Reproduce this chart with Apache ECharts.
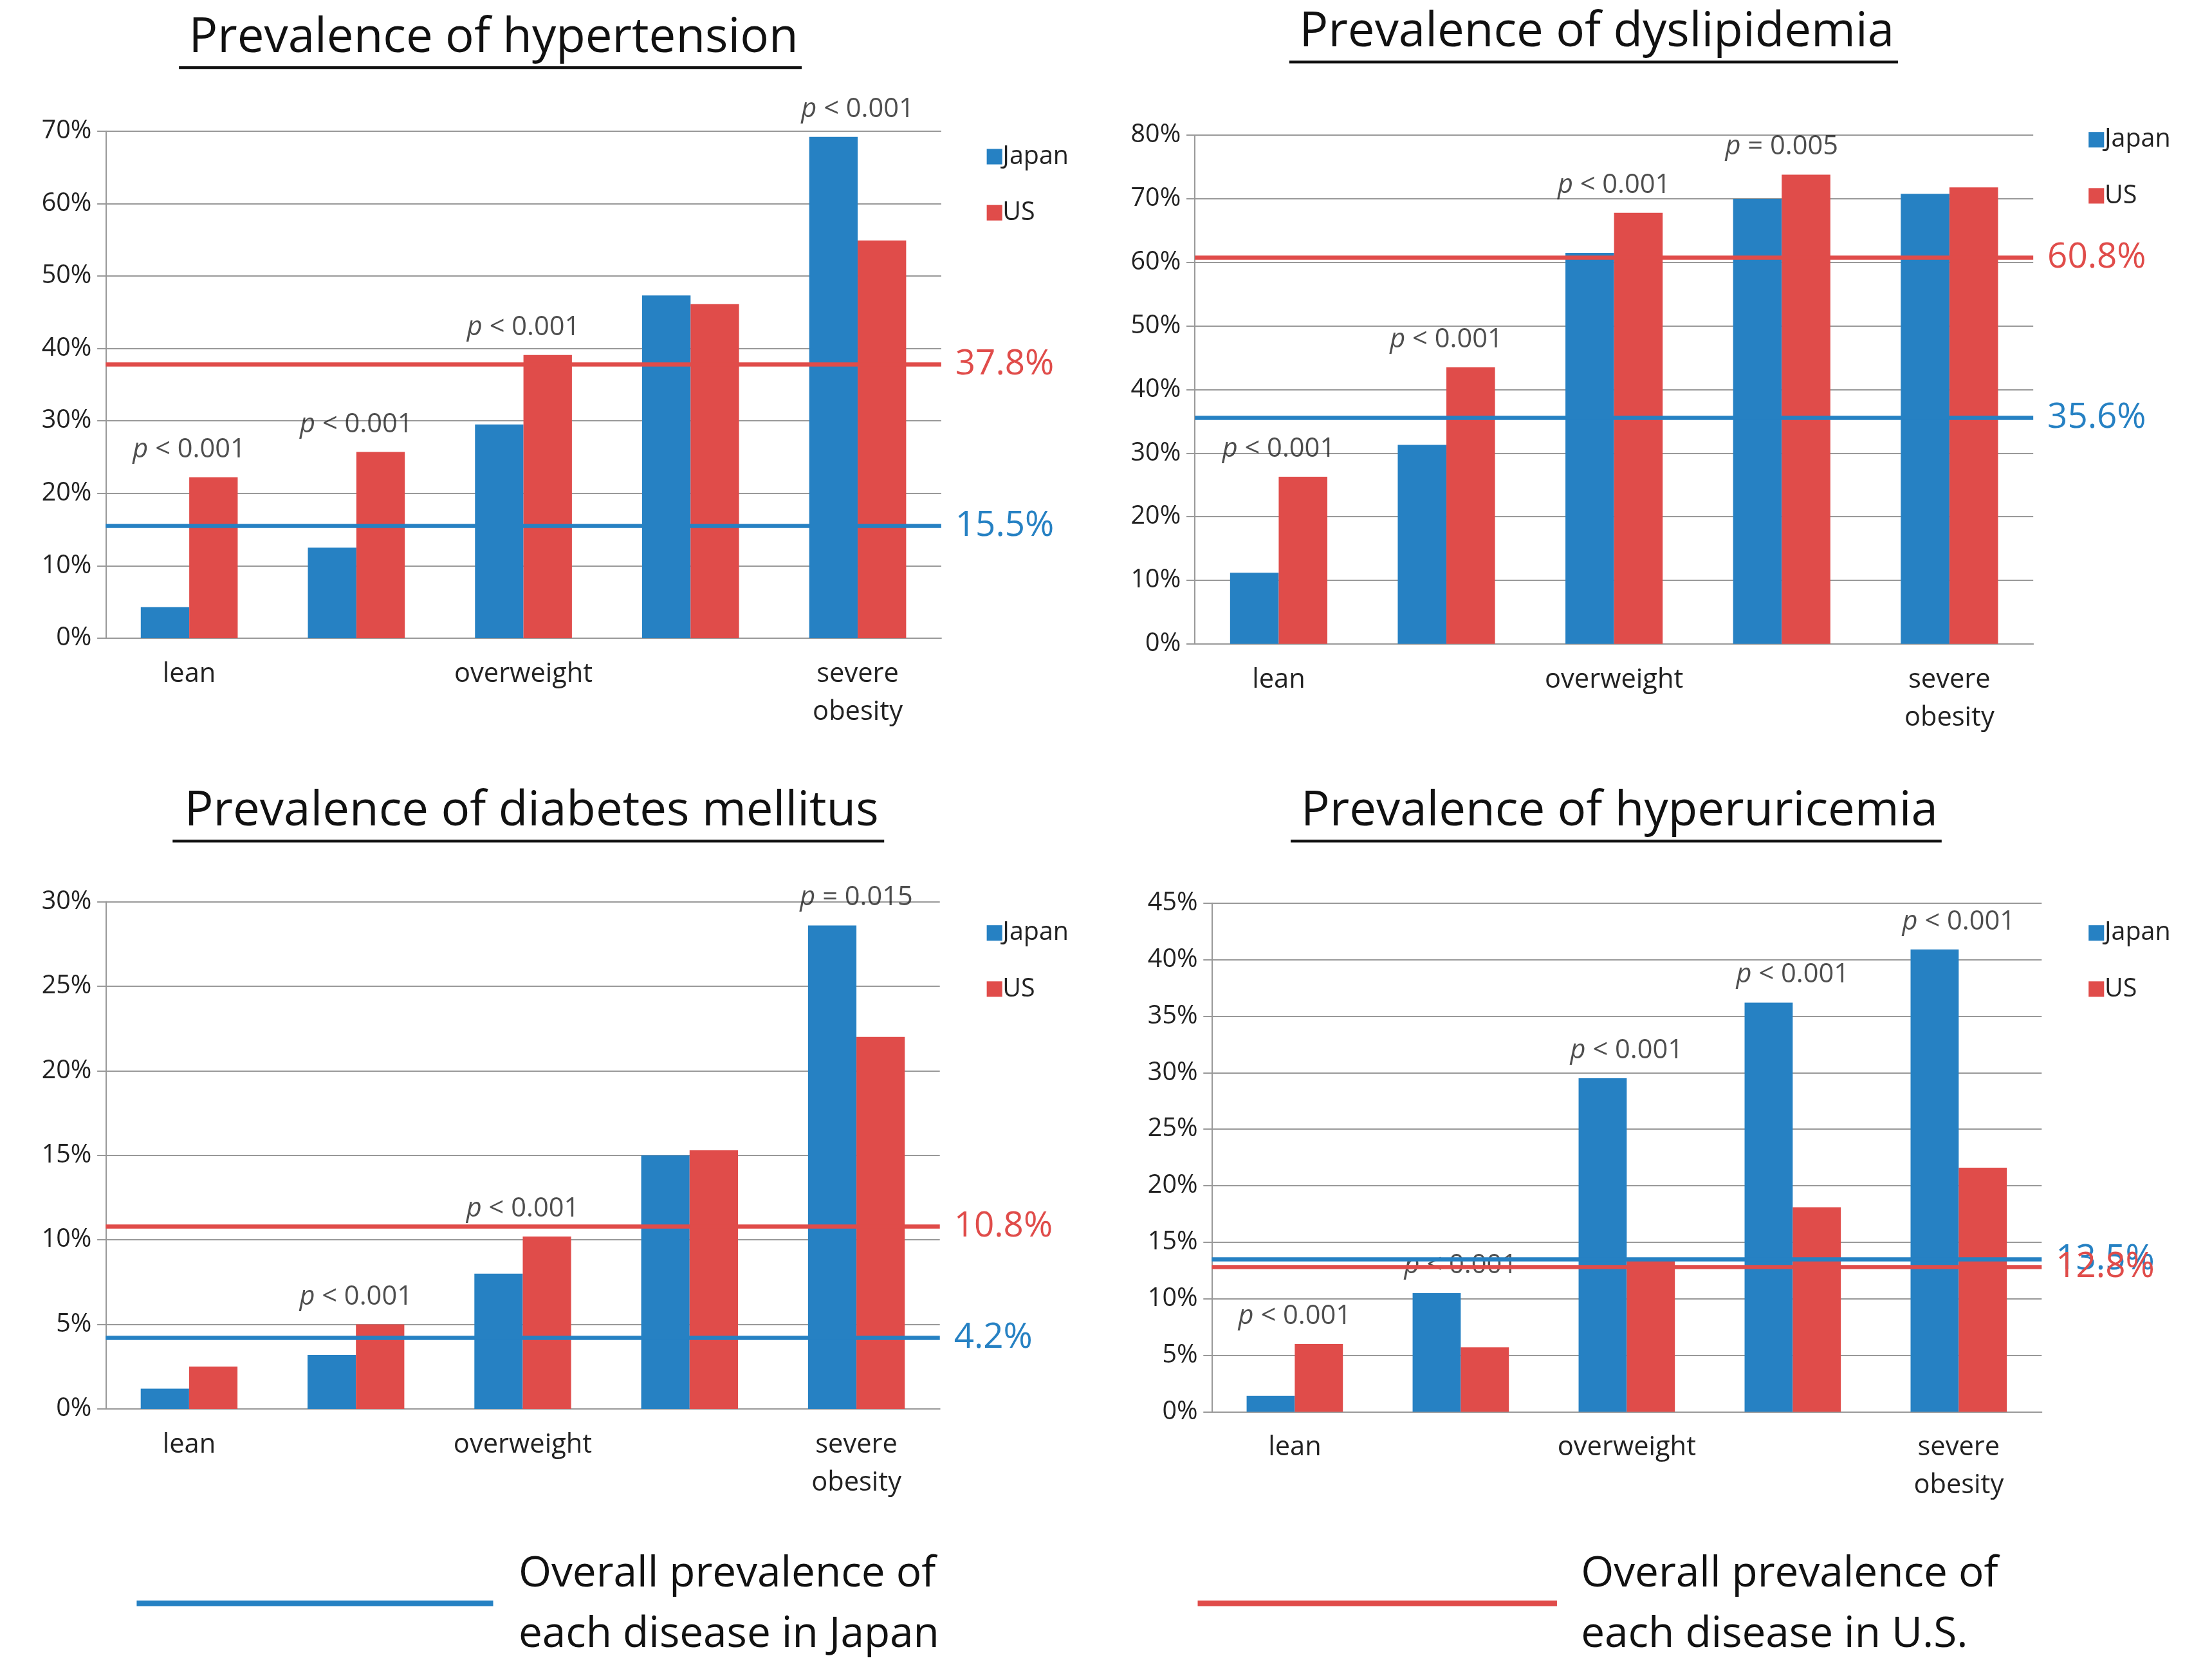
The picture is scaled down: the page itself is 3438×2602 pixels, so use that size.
<!DOCTYPE html>
<html>
<head>
<meta charset="UTF-8">
<script src="https://cdn.jsdelivr.net/npm/echarts@6/dist/echarts.min.js"></script>
<style>html,body{margin:0;background:#fff}#chart{width:3438px;height:2602px}</style>
</head>
<body>
<div id="chart"></div>
<script>
var S = 2.19;
var categories = ['lean', 'normal', 'overweight', 'obesity', 'severe\nobesity'];

var titles = ['Prevalence of hypertension', 'Prevalence of dyslipidemia', 'Prevalence of diabetes mellitus', 'Prevalence of hyperuricemia'];
var japan = [
  [4.3, 12.5, 29.5, 47.3, 69.2],
  [11.2, 31.3, 61.5, 70.0, 70.8],
  [1.2, 3.2, 8.0, 15.0, 28.6],
  [1.4, 10.5, 29.5, 36.2, 40.9]
];
var us = [
  [22.2, 25.7, 39.1, 46.1, 54.9],
  [26.3, 43.5, 67.8, 73.8, 71.8],
  [2.5, 5.0, 10.2, 15.3, 22.0],
  [6.0, 5.7, 13.5, 18.1, 21.6]
];
var overallJapan = [15.5, 35.6, 4.2, 13.5];
var overallUS = [37.8, 60.8, 10.8, 12.8];
var pLabels = [
  ['< 0.001', '< 0.001', '< 0.001', '', '< 0.001'],
  ['< 0.001', '< 0.001', '< 0.001', '= 0.005', ''],
  ['', '< 0.001', '< 0.001', '', '= 0.015'],
  ['< 0.001', '< 0.001', '< 0.001', '< 0.001', '< 0.001']
];
var yMax = [70, 80, 30, 45];
var yStep = [10, 10, 5, 5];

// layout in reference-display pixels
var grids = [
  {l: 75, t: 93, r: 668, b: 453, title: [348, 8], leg: [698, 100]},
  {l: 848, t: 96, r: 1443, b: 457, title: [1131, 4], leg: [1480, 88]},
  {l: 75, t: 640, r: 667, b: 1000, title: [375, 557], leg: [698, 651]},
  {l: 860, t: 641, r: 1449, b: 1002, title: [1147, 557], leg: [1480, 651]}
];

var BLUE = '#2681c3', RED = '#e04c4a';
var font = 'Open Sans, Liberation Sans, sans-serif';
var option = {
  backgroundColor: '#fff', animation: false,
  textStyle: {fontFamily: font},
  title: [], grid: [], xAxis: [], yAxis: [], series: [], legend: [], graphic: []
};

grids.forEach(function (g, i) {
  option.title.push({
    text: titles[i], left: g.title[0] * S, top: g.title[1] * S, textAlign: 'center',
    textStyle: {fontSize: 34 * S, fontWeight: 'normal', color: '#111', fontFamily: font}
  });
  option.grid.push({left: g.l * S, top: g.t * S, width: (g.r - g.l) * S, height: (g.b - g.t) * S});
  option.xAxis.push({
    type: 'category', gridIndex: i, data: categories,
    axisLine: {lineStyle: {color: '#999', width: 2}},
    axisTick: {length: 8 * S, lineStyle: {color: '#999', width: 2}},
    axisLabel: {fontSize: 19 * S, color: '#222', margin: 12 * S, lineHeight: 27 * S}
  });
  option.yAxis.push({
    type: 'value', gridIndex: i, min: 0, max: yMax[i], interval: yStep[i],
    axisLine: {show: true, lineStyle: {color: '#999', width: 2}},
    axisTick: {show: true, length: 6 * S, lineStyle: {color: '#999', width: 2}},
    splitLine: {lineStyle: {color: '#999', width: 2}},
    axisLabel: {fontSize: 18 * S, color: '#222', formatter: '{value}%', margin: 10 * S}
  });
  option.legend.push({
    left: g.leg[0] * S, top: g.leg[1] * S, orient: 'vertical',
    data: ['Japan', 'US'], icon: 'rect', itemWidth: 11 * S, itemHeight: 11 * S,
    itemGap: 22 * S, selectedMode: false,
    textStyle: {fontSize: 18 * S, color: '#222', padding: [0, 0, 0, -2 * S]}
  });
  function mk(val, color) {
    return {
      symbol: 'none', silent: true,
      lineStyle: {color: color, width: 3 * S, type: 'solid'},
      label: {formatter: val + '%', position: 'end', color: color, fontSize: 25 * S, distance: 10 * S},
      data: [{yAxis: val}]
    };
  }
  option.series.push({
    name: 'Japan', type: 'bar', xAxisIndex: i, yAxisIndex: i, data: japan[i],
    itemStyle: {color: BLUE}, barWidth: '29%', barGap: '0%',
    markLine: mk(overallJapan[i], BLUE), z: 2
  });
  option.series.push({
    name: 'US', type: 'bar', xAxisIndex: i, yAxisIndex: i, data: us[i],
    itemStyle: {color: RED}, barWidth: '29%', barGap: '0%',
    markLine: mk(overallUS[i], RED), z: 2
  });
  option.series.push({
    type: 'scatter', xAxisIndex: i, yAxisIndex: i, symbolSize: 0, silent: true,
    data: pLabels[i].map(function (p, k) {
      return p ? {value: [k, Math.max(japan[i][k], us[i][k])], p: p} : null;
    }).filter(Boolean),
    label: {
      show: true, position: 'top', distance: 10 * S,
      formatter: function (d) { return '{i|p} ' + d.data.p; },
      fontSize: 19 * S, color: '#222',
      rich: {i: {fontStyle: 'italic', fontSize: 19 * S, color: '#222'}}
    }
  });
});

// title underlines + bottom legend
var tw = [442, 432, 505, 462];
grids.forEach(function (g, i) {
  var y = (g.title[1] + 40) * S;
  option.graphic.push({type: 'line', shape: {x1: (g.title[0] - tw[i] / 2) * S, y1: y, x2: (g.title[0] + tw[i] / 2) * S, y2: y},
    style: {stroke: '#111', lineWidth: 2 * S}});
});
option.graphic.push(
  {type: 'line', shape: {x1: 97 * S, y1: 1138 * S, x2: 350 * S, y2: 1138 * S}, style: {stroke: BLUE, lineWidth: 4 * S}},
  {type: 'line', shape: {x1: 850 * S, y1: 1138 * S, x2: 1105 * S, y2: 1138 * S}, style: {stroke: RED, lineWidth: 4 * S}},
  {type: 'text', left: 368 * S, top: 1096 * S, style: {text: 'Overall prevalence of\neach disease in Japan', fontSize: 30 * S, lineHeight: 43 * S, fill: '#111', fontFamily: font}},
  {type: 'text', left: 1122 * S, top: 1096 * S, style: {text: 'Overall prevalence of\neach disease in U.S.', fontSize: 30 * S, lineHeight: 43 * S, fill: '#111', fontFamily: font}}
);

echarts.init(document.getElementById('chart')).setOption(option);
</script>
</body>
</html>
